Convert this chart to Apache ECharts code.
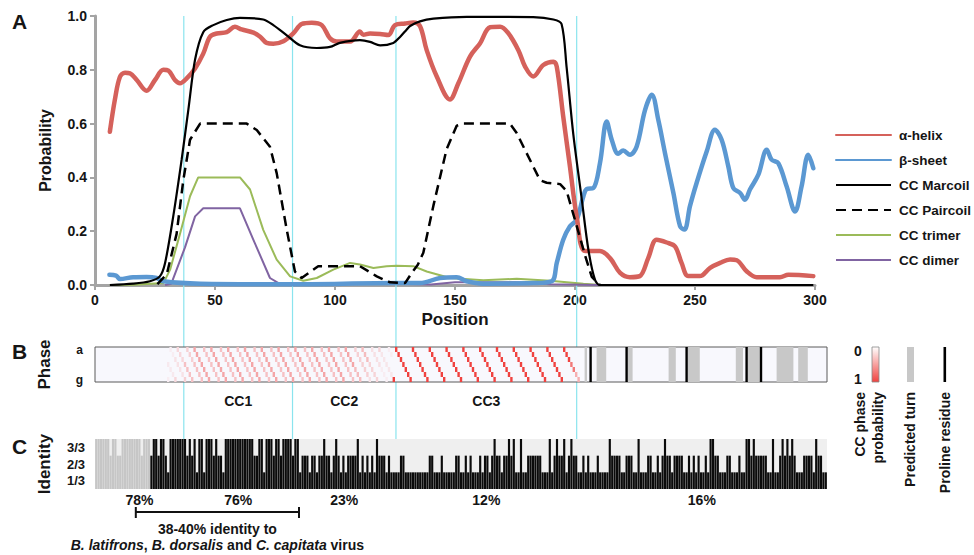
<!DOCTYPE html>
<html><head><meta charset="utf-8">
<script src="https://cdn.jsdelivr.net/npm/echarts@6/dist/echarts.min.js"></script>
<style>html,body{margin:0;padding:0;background:#fff}#c{width:974px;height:555px}</style>
</head><body><div id="c"></div>
<script>
// ---------- Panel A: secondary structure / coiled-coil probability ----------
const helixData = [[6.2,0.57],[8.3,0.69],[10.4,0.774],[12.5,0.789],[14.6,0.787],[17.4,0.762],[21.5,0.722],[25,0.762],[28.5,0.80],[30.6,0.797],[33.3,0.762],[35.4,0.75],[38.2,0.768],[41.7,0.805],[45.1,0.86],[47.9,0.923],[50.7,0.935],[54.9,0.94],[58.3,0.96],[61.1,0.95],[66,0.938],[68.8,0.923],[71.5,0.90],[74.3,0.897],[78.5,0.906],[82.6,0.935],[86.1,0.97],[90.3,0.975],[94.5,0.966],[97.9,0.917],[100.7,0.905],[106.3,0.905],[110.4,0.942],[111.8,0.93],[114.6,0.935],[118.8,0.933],[122.2,0.929],[125,0.966],[129.2,0.972],[132.6,0.976],[135.4,0.963],[138.2,0.873],[142.4,0.775],[147.9,0.69],[151.4,0.75],[156.3,0.85],[160.4,0.898],[164.6,0.958],[168.8,0.96],[172.2,0.936],[176.4,0.873],[179.2,0.812],[182.6,0.775],[186.8,0.818],[191,0.83],[192.4,0.812],[195.1,0.626],[197.9,0.44],[200.7,0.255],[204.2,0.126],[210.4,0.126],[214.6,0.10],[218.8,0.045],[222.9,0.029],[227,0.033],[230.5,0.10],[234,0.168],[238.2,0.158],[241.7,0.143],[244.4,0.082],[247.2,0.033],[252,0.033],[256.3,0.064],[260.4,0.082],[264.6,0.095],[267.4,0.092],[271.5,0.051],[275.7,0.029],[285.4,0.029],[288.9,0.038],[299.3,0.033]];
const sheetData = [[6,0.038],[8.8,0.035],[10.4,0.022],[15.9,0.029],[21.5,0.03],[25.7,0.026],[28.5,0.014],[43.8,0.005],[80,0.003],[127,0.007],[135.4,0.007],[143.8,0.026],[150.7,0.029],[154.9,0.014],[161.8,0.005],[182.6,0.007],[190.3,0.014],[192.4,0.082],[195.1,0.168],[197.9,0.218],[200.7,0.243],[203.5,0.33],[204.9,0.357],[207.6,0.36],[210.4,0.453],[213.2,0.608],[215.3,0.54],[218,0.488],[220.1,0.50],[222.9,0.484],[225.7,0.515],[229.2,0.651],[232,0.707],[234.7,0.614],[237.5,0.49],[241,0.342],[243.8,0.218],[245.6,0.206],[247.9,0.293],[250.7,0.38],[254.9,0.497],[258.3,0.577],[261.1,0.54],[263.9,0.44],[266,0.36],[268.8,0.342],[270.8,0.317],[272.9,0.355],[276.4,0.41],[279.9,0.503],[281.9,0.466],[284.7,0.453],[288.2,0.366],[291.7,0.273],[294.4,0.366],[297.2,0.484],[299.3,0.434]];
const marcoilData = [[6.2,0],[15.9,0.005],[22.9,0.014],[27,0.032],[29.2,0.082],[32.6,0.255],[36.1,0.466],[38.9,0.652],[41.7,0.838],[45.1,0.94],[49.3,0.966],[54.9,0.985],[60.4,0.993],[70.1,0.987],[74.3,0.966],[79.9,0.928],[85.4,0.891],[92.4,0.881],[97.9,0.885],[102,0.9],[110.4,0.91],[114.6,0.904],[118.8,0.891],[124.3,0.90],[127.1,0.922],[129.9,0.95],[131.3,0.963],[135.4,0.98],[141,0.99],[154.9,0.997],[182.6,0.996],[191,0.987],[194.4,0.97],[196.5,0.81],[199.3,0.56],[202.8,0.32],[205.6,0.13],[208.3,0.02],[210.4,0],[299.3,0]];
const paircoilData = [[26,0.003],[29.9,0.04],[34,0.19],[36.8,0.39],[39.6,0.54],[43.8,0.6],[63.2,0.6],[67.4,0.576],[72.9,0.514],[75.7,0.416],[79.9,0.205],[83.3,0.05],[86.1,0.026],[93,0.07],[110.4,0.07],[117.4,0.032],[122.9,0.01],[129.2,0.007],[132,0.045],[134.5,0.075],[136.8,0.12],[141,0.295],[146.5,0.505],[150.7,0.592],[153.5,0.6],[172.9,0.6],[175.7,0.565],[185.4,0.39],[188.2,0.38],[193.8,0.375],[196.5,0.35],[200.7,0.22],[204.2,0.11],[207,0.03],[210.4,0]];
const trimerData = [[6.2,0],[16,0.001],[28.5,0.007],[31.3,0.057],[35.4,0.19],[39.6,0.33],[43,0.4],[60.4,0.4],[64.6,0.355],[70.1,0.205],[75.7,0.094],[81.3,0.032],[86.8,0.016],[92.4,0.026],[99.3,0.057],[106.3,0.082],[110.4,0.076],[116,0.063],[121.5,0.07],[125.7,0.072],[132.6,0.07],[138.2,0.05],[147.9,0.026],[161.8,0.018],[175.7,0.023],[189.6,0.016],[203.5,0.005],[210.4,0]];
const dimerData = [[29.2,0],[31.8,0.005],[37.5,0.14],[41.7,0.255],[45.1,0.285],[60.4,0.285],[66,0.168],[72.9,0.026],[77,0.004],[90,0.001],[105,0.005],[125,0.005],[140,0.002],[150,0.01],[175,0.01],[190,0.003],[210,0]];
const yTicks = [0, 0.2, 0.4, 0.6, 0.8, 1.0];

// ---------- Region boundaries (cyan guides) and labels ----------
const guideLines = [37, 82.3, 125.4, 200.7];
const regionBounds = [0, 37, 82.3, 125.4, 200.7, 305];
const regionIdentity = ['78%', '76%', '23%', '12%', '16%'];
const ccLabels = ['', 'CC1', 'CC2', 'CC3', ''];
const bracketRange = [17, 85];

// ---------- Panel B: heptad phase ----------
const phaseRows = ['a', 'b', 'c', 'd', 'e', 'f', 'g'];
// [firstResidue, lastResidue, probability, residue in heptad position 'a']
const phaseRuns = [
  [31,33,0.08,126],[34,37,0.18,126],[38,41,0.30,126],[42,108,0.45,126],[109,114,0.33,126],[115,119,0.20,126],[120,124,0.10,126],
  [31,33,0.06,130],[34,37,0.12,130],[38,41,0.22,130],[42,108,0.30,130],[109,114,0.22,130],[115,119,0.13,130],[120,124,0.06,130],
  [125,198,1.0,126],[199,200,0.7,126],[201,202,0.4,126]
];
const turnRanges = [[205,205],[210,213],[223,224],[240,242],[248,252],[268,270],[273,277],[285,291],[294,297]];
const prolineResidues = [207, 222, 247, 272, 278];

// ---------- Panel C: identity per residue (1,2,3 of 3) ----------
const nonConservedN = 23;
const identity = [
 3,3,3,3,3,3,2,3,3,2, 2,3,3,3,3,3,3,3,3,2, 3,3,3,2,3,3,2,3,3,2,
 1,3,3,3,3,3,3,3,2,3, 2,3,1,3,3,1,3,3,3,2, 3,2,2,1,3,3,3,3,3,3,
 3,3,3,3,3,3,2,2,3,3, 1,3,3,3,2,3,3,2,3,3, 3,3,2,3,3,1,2,2,2,1,
 2,2,1,2,2,3,2,2,1,2, 3,2,1,2,1,2,2,2,2,3, 1,2,1,2,1,2,1,3,2,2,
 2,1,2,1,1,1,1,2,2,1, 1,1,1,1,1,1,1,1,1,2, 2,1,1,1,2,1,1,1,1,1,
 2,2,1,1,2,1,2,1,1,1, 2,1,2,2,1,2,3,2,2,1, 2,2,3,2,3,1,1,3,1,1,
 2,2,2,2,2,2,1,1,1,3, 1,2,3,2,2,3,1,2,3,2, 2,1,1,2,1,2,1,1,1,2,
 1,1,1,1,3,2,2,2,2,1, 1,2,2,2,1,1,3,1,1,1, 2,2,1,1,2,1,2,3,2,2,
 1,2,2,2,2,1,1,2,1,2, 1,2,1,1,2,1,3,3,2,2, 1,1,1,2,2,1,1,1,2,1,
 1,3,3,2,3,2,2,2,2,2, 1,1,3,1,1,2,3,2,3,2, 3,2,1,1,1,2,2,2,2,1,
 3,2,2,1,1
];
const identityLabels = {0.5: '1/3', 1.5: '2/3', 2.5: '3/3'};
const residues = identity.map((v, i) => String(i + 1));

// ---------- styling ----------
const FONT = 'Liberation Sans, Arial, Helvetica, sans-serif';
const TXT = '#151515';
const AX = '#a4a4a4';
const phaseScale = ['#f8f8fd', '#f0423f'];

const phaseCells = [];
phaseRuns.forEach(([s, e, p, a]) => {
  for (let k = s; k <= e; k++) phaseCells.push([k, ((k - a) % 7 + 7) % 7, p]);
});

const chart = echarts.init(document.getElementById('c'), null, {renderer: 'svg', width: 974, height: 555});

const bold = (size) => ({fontFamily: FONT, fontWeight: 'bold', fontSize: size, color: TXT});

const option = {
  animation: false,
  backgroundColor: '#ffffff',
  textStyle: {fontFamily: FONT},
  grid: [
    {left: 95, top: 16, width: 720, height: 269},
    {left: 95, top: 347, width: 732, height: 35, show: true, backgroundColor: '#f8f8fd', borderColor: '#5a5a5a', borderWidth: 1, z: 5},
    {left: 95, top: 439, width: 732, height: 50, show: true, backgroundColor: '#efefef', borderWidth: 0},
    {left: 95, top: 16, width: 732, height: 423}
  ],
  xAxis: [
    {gridIndex: 0, type: 'value', min: 0, max: 300, interval: 50,
     name: 'Position', nameLocation: 'middle', nameGap: 26, nameTextStyle: bold(17),
     axisLine: {lineStyle: {color: AX, width: 3}}, axisTick: {length: 5, lineStyle: {color: AX, width: 2}},
     axisLabel: Object.assign({margin: 8}, bold(14)), splitLine: {show: false}},
    {gridIndex: 1, type: 'value', min: 0, max: 305, show: false},
    {gridIndex: 2, type: 'category', data: residues, show: false},
    {gridIndex: 3, type: 'value', min: 0, max: 305, show: false}
  ],
  yAxis: [
    {gridIndex: 0, type: 'value', min: 0, max: 1, interval: 0.2,
     name: 'Probability', nameLocation: 'middle', nameGap: 42, nameRotate: 90, nameTextStyle: bold(16),
     axisLine: {show: true, lineStyle: {color: AX, width: 3}}, axisTick: {show: true, length: 5, lineStyle: {color: AX, width: 2}},
     axisLabel: Object.assign({margin: 8, formatter: v => yTicks.includes(v) ? v.toFixed(1) : ''}, bold(14)), splitLine: {show: false}},
    {gridIndex: 1, type: 'category', data: phaseRows, inverse: true,
     name: 'Phase', nameLocation: 'middle', nameGap: 42, nameRotate: 90, nameTextStyle: bold(17),
     axisLine: {show: false}, axisTick: {show: false},
     axisLabel: Object.assign({margin: 12, interval: 0, formatter: v => (v === 'a' || v === 'g') ? v : ''}, bold(12))},
    {gridIndex: 2, type: 'value', min: 0, max: 3, interval: 0.5,
     name: 'Identity', nameLocation: 'middle', nameGap: 42, nameRotate: 90, nameTextStyle: bold(17),
     axisLine: {show: false}, axisTick: {show: false}, splitLine: {show: false},
     axisLabel: Object.assign({margin: 10, formatter: v => identityLabels[v] || ''}, bold(13))},
    {gridIndex: 3, type: 'value', min: 0, max: 1, show: false}
  ],
  legend: {
    orient: 'vertical', left: 830, top: 123, itemWidth: 55, itemHeight: 14, itemGap: 11,
    itemStyle: {opacity: 0},
    textStyle: Object.assign({padding: [0, 0, 0, 3], lineHeight: 14}, bold(13.5)),
    data: ['α-helix', 'β-sheet', 'CC Marcoil', 'CC Paircoil', 'CC trimer', 'CC dimer']
  },
  series: [
    {type: 'custom', name: 'guides', xAxisIndex: 3, yAxisIndex: 3, z: 1, silent: true,
     data: guideLines.map(v => [v]), encode: {x: 0},
     renderItem: (params, api) => {
       const x = api.coord([api.value(0), 0])[0];
       const cs = params.coordSys;
       return {type: 'line', shape: {x1: x, y1: cs.y, x2: x, y2: cs.y + cs.height}, style: {stroke: '#8ae4ee', lineWidth: 1.2}};
     }},
    {type: 'line', name: 'CC trimer', xAxisIndex: 0, yAxisIndex: 0, data: trimerData, symbol: 'none', z: 3,
     lineStyle: {color: '#9bbb59', width: 2}, itemStyle: {color: '#9bbb59'}},
    {type: 'line', name: 'CC dimer', xAxisIndex: 0, yAxisIndex: 0, data: dimerData, symbol: 'none', z: 3,
     lineStyle: {color: '#8064a2', width: 2}, itemStyle: {color: '#8064a2'}},
    {type: 'line', name: 'β-sheet', xAxisIndex: 0, yAxisIndex: 0, data: sheetData, symbol: 'none', smooth: 0.35, z: 4,
     lineStyle: {color: '#5b98d2', width: 4.5, cap: 'round', join: 'round'}, itemStyle: {color: '#5b98d2'}},
    {type: 'line', name: 'α-helix', xAxisIndex: 0, yAxisIndex: 0, data: helixData, symbol: 'none', smooth: 0.35, z: 4,
     lineStyle: {color: '#d5615b', width: 4.5, cap: 'round', join: 'round'}, itemStyle: {color: '#d5615b'}},
    {type: 'line', name: 'CC Paircoil', xAxisIndex: 0, yAxisIndex: 0, data: paircoilData, symbol: 'none', z: 5,
     lineStyle: {color: '#000', width: 2.5, type: [10, 6]}, itemStyle: {color: '#000'}},
    {type: 'line', name: 'CC Marcoil', xAxisIndex: 0, yAxisIndex: 0, data: marcoilData, symbol: 'none', smooth: 0.3, z: 5,
     lineStyle: {color: '#000', width: 2.2}, itemStyle: {color: '#000'}},
    {type: 'custom', name: 'phase', xAxisIndex: 1, yAxisIndex: 1, z: 6, silent: true,
     data: phaseCells, encode: {x: 0, y: 1},
     renderItem: (params, api) => {
       const k = api.value(0), row = api.value(1), p = api.value(2);
       const c = api.coord([k - 1, row]);
       const s = api.size([1, 1]);
       return {type: 'rect', shape: {x: c[0], y: c[1] - s[1] / 2, width: s[0], height: s[1]}, style: {fill: echarts.color.lerp(p, phaseScale)}};
     }},
    {type: 'custom', name: 'turn', xAxisIndex: 1, yAxisIndex: 1, z: 6, silent: true,
     data: turnRanges, encode: {x: [0, 1]},
     renderItem: (params, api) => {
       const x1 = api.coord([api.value(0) - 1, 0])[0];
       const x2 = api.coord([api.value(1), 0])[0];
       const cs = params.coordSys;
       return {type: 'rect', shape: {x: x1, y: cs.y, width: x2 - x1, height: cs.height}, style: {fill: '#c8c8c8'}};
     }},
    {type: 'custom', name: 'proline', xAxisIndex: 1, yAxisIndex: 1, z: 7, silent: true,
     data: prolineResidues.map(r => [r]), encode: {x: 0},
     renderItem: (params, api) => {
       const x1 = api.coord([api.value(0) - 1, 0])[0];
       const x2 = api.coord([api.value(0), 0])[0];
       const cs = params.coordSys;
       return {type: 'rect', shape: {x: x1, y: cs.y, width: x2 - x1, height: cs.height}, style: {fill: '#000'}};
     }},
    {type: 'bar', name: 'identity', xAxisIndex: 2, yAxisIndex: 2, z: 3, silent: true, barCategoryGap: '10%',
     data: identity.map((v, i) => ({value: v, itemStyle: {color: i < nonConservedN ? '#c6c6c6' : '#0b0b0b'}}))}
  ]
};
chart.setOption(option);

// ---------- annotations positioned through the axes ----------
const px = v => chart.convertToPixel({xAxisIndex: 3}, v);
const textEl = (text, x, y, size, extra) => Object.assign({
  type: 'text', x, y, silent: true,
  style: {text, font: `bold ${size}px ${FONT}`, fill: TXT, align: 'center', verticalAlign: 'middle', textAlign: 'center', textVerticalAlign: 'middle'}
}, extra || {});
const rotText = (text, x, y) => ({
  type: 'text', x, y, rotation: Math.PI / 2, silent: true,
  style: {text, font: `bold 14px ${FONT}`, fill: TXT, align: 'right', verticalAlign: 'middle', textAlign: 'right', textVerticalAlign: 'middle'}
});
const g = [];
g.push(textEl('A', 19.5, 21, 21), textEl('B', 19.5, 351, 21), textEl('C', 19.5, 446, 21));
for (let i = 0; i < regionIdentity.length; i++) {
  const cx = px((regionBounds[i] + regionBounds[i + 1]) / 2);
  g.push(textEl(regionIdentity[i], cx, 500, 14));
  if (ccLabels[i]) g.push(textEl(ccLabels[i], cx, 401, 14));
}
const bx1 = px(bracketRange[0]), bx2 = px(bracketRange[1]);
g.push({type: 'line', shape: {x1: bx1, y1: 512, x2: bx2, y2: 512}, style: {stroke: '#111', lineWidth: 2}});
g.push({type: 'line', shape: {x1: bx1, y1: 507, x2: bx1, y2: 518}, style: {stroke: '#111', lineWidth: 2}});
g.push({type: 'line', shape: {x1: bx2, y1: 507, x2: bx2, y2: 518}, style: {stroke: '#111', lineWidth: 2}});
const bmid = (bx1 + bx2) / 2;
g.push(textEl('38-40% identity to', bmid, 529, 14));
g.push({type: 'text', x: bmid, y: 545, silent: true,
  style: {text: '{i|B. latifrons}, {i|B. dorsalis} and {i|C. capitata} virus', font: `bold 14px ${FONT}`, fill: TXT,
    align: 'center', verticalAlign: 'middle', textAlign: 'center', textVerticalAlign: 'middle',
    rich: {i: {fontStyle: 'italic', fontWeight: 'bold', fontSize: 14, fontFamily: FONT, fill: TXT, color: TXT}}}});
// panel B key
g.push(textEl('0', 858, 351, 14), textEl('1', 858, 379, 14));
g.push({type: 'rect', shape: {x: 872, y: 347, width: 7, height: 35},
  style: {fill: new echarts.graphic.LinearGradient(0, 0, 0, 1, [{offset: 0, color: '#ffffff'}, {offset: 1, color: '#f0423f'}]), stroke: '#888', lineWidth: 0.8}});
g.push({type: 'rect', shape: {x: 907, y: 347, width: 7, height: 35}, style: {fill: '#c8c8c8'}});
g.push({type: 'rect', shape: {x: 943.5, y: 347, width: 2.6, height: 35}, style: {fill: '#000'}});
g.push(rotText('CC phase', 860, 392), rotText('probability', 878, 392), rotText('Predicted turn', 910, 392), rotText('Proline residue', 945, 392));
chart.setOption({graphic: {elements: g}});
</script></body></html>
